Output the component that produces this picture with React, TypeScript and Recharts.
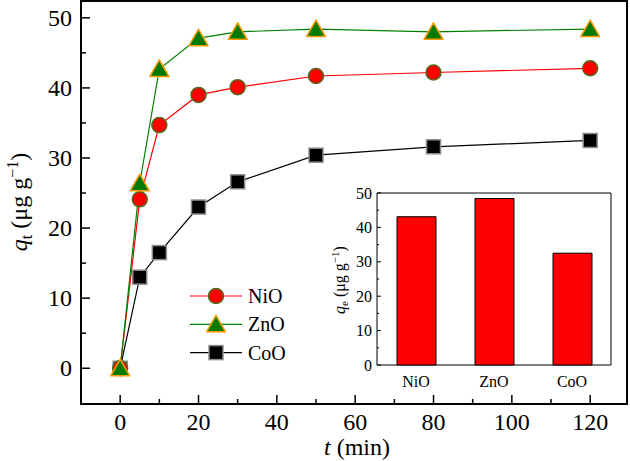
import { LineChart, Line, XAxis, YAxis, ReferenceArea, BarChart, Bar } from 'recharts'

// adsorption kinetics
const TIME = [0, 5, 10, 20, 30, 50, 80, 120]
const NIO = [0, 24.1, 34.7, 39.0, 40.1, 41.7, 42.2, 42.8]
const ZNO = [0, 26.4, 42.7, 47.1, 48.0, 48.4, 48.0, 48.4]
const COO = [0, 13.0, 16.5, 23.0, 26.6, 30.4, 31.6, 32.5]

const X_TICKS = [0, 10, 20, 30, 40, 50, 60, 70, 80, 90, 100, 110, 120]
const Y_TICKS = [0, 5, 10, 15, 20, 25, 30, 35, 40, 45, 50]

// inset: equilibrium capacity
const MATERIALS = ['NiO', 'ZnO', 'CoO']
const QE = [43.1, 48.4, 32.5]
const INSET_TICKS = [0, 5, 10, 15, 20, 25, 30, 35, 40, 45, 50]

const FONT = 'Liberation Serif, Times New Roman, serif'
const TXT = { fontFamily: FONT }

const SERIES = [
  { key: 'CoO', values: COO, color: '#000000', marker: 'square' },
  { key: 'NiO', values: NIO, color: '#ff0000', marker: 'circle' },
  { key: 'ZnO', values: ZNO, color: '#008000', marker: 'triangle' },
]
const LEGEND_ORDER = ['NiO', 'ZnO', 'CoO']

const rows = TIME.map((t, i) => ({ t, NiO: NIO[i], ZnO: ZNO[i], CoO: COO[i] }))
const barRows = MATERIALS.map((m, i) => ({ name: m, qe: QE[i] }))

function Marker({ kind, cx, cy }: { kind: string; cx: number; cy: number }) {
  if (kind === 'circle')
    return <circle cx={cx} cy={cy} r={7.5} fill="#ff0000" stroke="#4f6b1c" strokeWidth={1.5} />
  if (kind === 'triangle')
    return (
      <polygon
        points={`${cx},${cy - 9} ${cx + 9.5},${cy + 7.5} ${cx - 9.5},${cy + 7.5}`}
        fill="#007a00"
        stroke="#ff9a00"
        strokeWidth={1.5}
        strokeLinejoin="round"
      />
    )
  return <rect x={cx - 7} y={cy - 7} width={14} height={14} fill="#000" stroke="#8c8c8c" strokeWidth={1.5} />
}

function XTick({ x, y, payload }: any) {
  const major = payload.value % 20 === 0
  return (
    <g>
      <line x1={x} x2={x} y1={y} y2={y - (major ? 9 : 5)} stroke="#000" strokeWidth={1.5} />
      {major && (
        <text x={x} y={y + 26} textAnchor="middle" fontSize={24} style={TXT} fill="#000">
          {payload.value}
        </text>
      )}
    </g>
  )
}

function YTick({ x, y, payload }: any) {
  const major = payload.value % 10 === 0
  return (
    <g>
      <line x1={x} x2={x + (major ? 9 : 5)} y1={y} y2={y} stroke="#000" strokeWidth={1.5} />
      {major && (
        <text x={x - 9} y={y + 8} textAnchor="end" fontSize={24} style={TXT} fill="#000">
          {payload.value}
        </text>
      )}
    </g>
  )
}

function InsetYTick({ x, y, payload }: any) {
  const major = payload.value % 10 === 0
  return (
    <g>
      <line x1={x} x2={x + (major ? 4 : 2)} y1={y} y2={y} stroke="#000" strokeWidth={1} />
      {major && (
        <text x={x - 5} y={y + 5.5} textAnchor="end" fontSize={16} style={TXT} fill="#000">
          {payload.value}
        </text>
      )}
    </g>
  )
}

function InsetXTick({ x, y, payload }: any) {
  return (
    <text x={x} y={y + 22} textAnchor="middle" fontSize={16} style={TXT} fill="#000">
      {payload.value}
    </text>
  )
}

export default function App() {
  return (
    <div style={{ position: 'absolute', left: 0, top: 0, width: 630, height: 461, background: '#fff', fontFamily: FONT }}>
      <LineChart width={630} height={461} data={rows} margin={{ top: 1, right: 3, bottom: 0, left: 0 }}>
        <XAxis
          dataKey="t"
          type="number"
          domain={[-10, 129.4]}
          allowDataOverflow
          ticks={X_TICKS}
          interval={0}
          height={57}
          axisLine={false}
          tickLine={false}
          tickSize={0}
          tickMargin={0}
          tick={<XTick />}
        />
        <YAxis
          type="number"
          domain={[-5.1, 52.4]}
          allowDataOverflow
          ticks={Y_TICKS}
          interval={0}
          width={81}
          axisLine={false}
          tickLine={false}
          tickSize={0}
          tickMargin={0}
          tick={<YTick />}
        />
        <ReferenceArea y1={-5.1} y2={52.4} fill="none" stroke="#000" strokeWidth={2} ifOverflow="visible" />
        {SERIES.map((s) => (
          <Line
            key={s.key}
            dataKey={s.key}
            stroke={s.color}
            strokeWidth={1.2}
            isAnimationActive={false}
            activeDot={false}
            dot={(p: any) => <Marker key={`${s.key}-${p.index}`} kind={s.marker} cx={p.cx} cy={p.cy} />}
          />
        ))}
      </LineChart>

      <svg width={630} height={461} style={{ position: 'absolute', left: 0, top: 0, pointerEvents: 'none', ...TXT }}>
        <text x={27} y={202} transform="rotate(-90, 27, 202)" textAnchor="middle" fontSize={24}>
          <tspan fontStyle="italic">q</tspan>
          <tspan fontSize={16} dy={5}>t</tspan>
          <tspan dy={-5}> (μg g</tspan>
          <tspan fontSize={16} dy={-9}>−1</tspan>
          <tspan dy={9}>)</tspan>
        </text>
        <text x={357} y={455} textAnchor="middle" fontSize={24}>
          <tspan fontStyle="italic">t</tspan> (min)
        </text>
        {LEGEND_ORDER.map((name, i) => {
          const s = SERIES.find((d) => d.key === name)!
          const cy = 296 + i * 28.3
          return (
            <g key={name}>
              <line x1={190} x2={242} y1={cy} y2={cy} stroke={s.color} strokeWidth={1.2} />
              <Marker kind={s.marker} cx={216} cy={cy} />
              <text x={248} y={cy + 7} fontSize={20}>
                {name}
              </text>
            </g>
          )
        })}
      </svg>

      <div style={{ position: 'absolute', left: 330, top: 180 }}>
        <BarChart width={300} height={220} data={barRows} margin={{ top: 13, right: 19, bottom: 0, left: 0 }}>
          <XAxis
            dataKey="name"
            height={35}
            axisLine={false}
            tickLine={false}
            tickSize={0}
            tickMargin={0}
            tick={<InsetXTick />}
          />
          <YAxis
            type="number"
            domain={[0, 50]}
            ticks={INSET_TICKS}
            interval={0}
            width={47}
            axisLine={false}
            tickLine={false}
            tickSize={0}
            tickMargin={0}
            tick={<InsetYTick />}
          />
          <ReferenceArea y1={0} y2={50} fill="#fff" stroke="#000" strokeWidth={1} ifOverflow="visible" />
          <Bar dataKey="qe" barSize={39} fill="#ff0000" stroke="#000" strokeWidth={1} isAnimationActive={false} />
        </BarChart>
        <svg width={300} height={220} style={{ position: 'absolute', left: 0, top: 0, pointerEvents: 'none', ...TXT }}>
          <text x={15} y={100} transform="rotate(-90, 15, 100)" textAnchor="middle" fontSize={16}>
            <tspan fontStyle="italic">q</tspan>
            <tspan fontSize={11} dy={3}>e</tspan>
            <tspan dy={-3}> (μg g</tspan>
            <tspan fontSize={11} dy={-6}>−1</tspan>
            <tspan dy={6}>)</tspan>
          </text>
        </svg>
      </div>
    </div>
  )
}
